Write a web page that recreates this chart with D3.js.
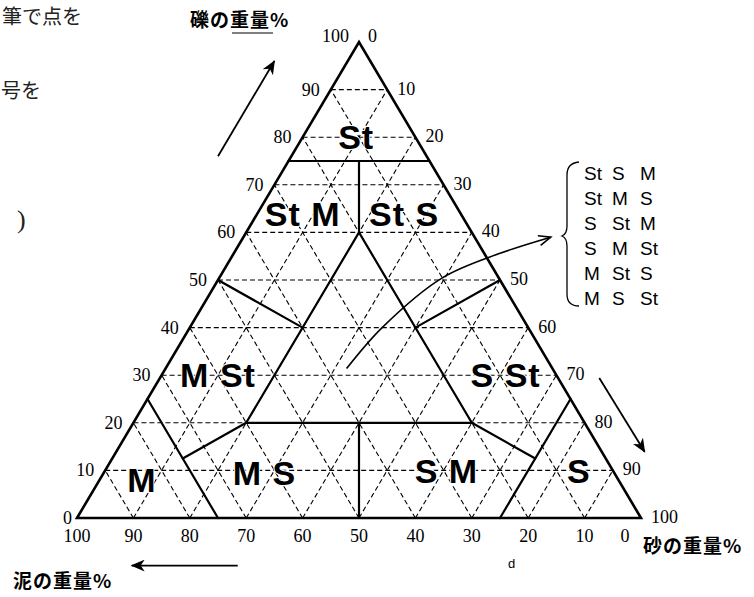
<!DOCTYPE html>
<html>
<head>
<meta charset="utf-8">
<script src="https://cdn.jsdelivr.net/npm/d3@7"></script>
<style>
  body { margin: 0; background: #fff; }
  svg { display: block; }
</style>
</head>
<body>
<svg id="chart" width="754" height="597"></svg>
<script>
// tick labels on each side of the triangle
var tickValues = [0, 10, 20, 30, 40, 50, 60, 70, 80, 90, 100];
var gridValues = [10, 20, 30, 40, 50, 60, 70, 80, 90];

// region names and where they sit (gravel %, sand %)
var regionNames  = ["St", "St M", "St S", "M St", "S St", "M", "M S", "S M", "S"];
var regionGravel = [80, 64, 64, 30, 30, 8, 9.5, 10, 10];
var regionSand   = [9.5, 8, 26, 10, 61, 7.5, 28.5, 60.5, 84];

// class boundaries, [gravel, sand] at each end
var boundaryFrom = [[75, 0], [75, 12.5], [60, 20], [60, 20], [20, 20], [20, 40], [50, 0], [50, 50], [20, 20], [25, 0], [20, 60], [25, 75]];
var boundaryTo   = [[75, 25], [60, 20], [20, 20], [20, 60], [20, 60], [0, 50], [40, 20], [40, 40], [12.5, 12.5], [0, 25], [12.5, 75], [0, 75]];

// the six orders for the centre field
var orderRows = [
  ["St", "S", "M"],
  ["St", "M", "S"],
  ["S", "St", "M"],
  ["S", "M", "St"],
  ["M", "St", "S"],
  ["M", "S", "St"]
];

// curved pointer from the centre field (gravel, sand)
var pointerPath = [[31.4, 32.1], [40, 34.1], [50.4, 39.5], [55.5, 47], [59, 54.5]];

var titleGravel = "礫の重量%",
    titleSand = "砂の重量%",
    titleMud = "泥の重量%";


var svg = d3.select("#chart");

var x = d3.scaleLinear().domain([0, 100]).range([77, 641]);
var y = d3.scaleLinear().domain([0, 100]).range([518, 42]);

// gravel g, sand s -> pixel
function pt(g, s) {
  return [x(s + g / 2), y(g)];
}

var numFont = "Liberation Serif, Times New Roman, DejaVu Serif, serif",
    jpFont = "Noto Sans CJK JP, sans-serif",
    latFont = "Liberation Sans, Arial, sans-serif";

// markers
var defs = svg.append("defs");
defs.append("marker")
    .attr("id", "barb")
    .attr("markerUnits", "userSpaceOnUse")
    .attr("markerWidth", 16).attr("markerHeight", 12)
    .attr("refX", 13).attr("refY", 6)
    .attr("orient", "auto")
  .append("path")
    .attr("d", "M0,0 L14,6 L0,12 L4,6 Z")
    .style("fill", "#000");
defs.append("marker")
    .attr("id", "open")
    .attr("markerUnits", "userSpaceOnUse")
    .attr("markerWidth", 16).attr("markerHeight", 12)
    .attr("refX", 13).attr("refY", 6)
    .attr("orient", "auto")
  .append("path")
    .attr("d", "M1,1 L13,6 L1,11")
    .style("fill", "none")
    .style("stroke", "#000")
    .style("stroke-width", 1.6);


// dashed grid
var grid = svg.append("g")
    .style("stroke", "#000")
    .style("stroke-width", 1.1)
    .style("stroke-dasharray", "5,3")
    .style("fill", "none");

gridValues.forEach(function(k) {
  // constant gravel
  var a = pt(k, 0), b = pt(k, 100 - k);
  grid.append("line").attr("x1", a[0]).attr("y1", a[1]).attr("x2", b[0]).attr("y2", b[1]);
  // constant sand
  a = pt(0, k); b = pt(100 - k, k);
  grid.append("line").attr("x1", a[0]).attr("y1", a[1]).attr("x2", b[0]).attr("y2", b[1]);
  // constant mud
  a = pt(0, 100 - k); b = pt(100 - k, 0);
  grid.append("line").attr("x1", a[0]).attr("y1", a[1]).attr("x2", b[0]).attr("y2", b[1]);
});


// class boundaries
var bounds = svg.append("g")
    .style("stroke", "#000")
    .style("stroke-width", 2.2)
    .style("stroke-linecap", "round");

boundaryFrom.forEach(function(f, i) {
  var a = pt(f[0], f[1]), b = pt(boundaryTo[i][0], boundaryTo[i][1]);
  bounds.append("line").attr("x1", a[0]).attr("y1", a[1]).attr("x2", b[0]).attr("y2", b[1]);
});


// outline
svg.append("path")
    .attr("d", d3.line()([pt(0, 0), pt(100, 0), pt(0, 100)]) + "Z")
    .style("fill", "none")
    .style("stroke", "#000")
    .style("stroke-width", 2.6)
    .style("stroke-linejoin", "miter");


// tick labels
var ticks = svg.append("g")
    .attr("font-family", numFont)
    .attr("font-size", 18)
    .style("fill", "#000");

tickValues.forEach(function(t) {
  // gravel, left edge
  var p = pt(t, 0);
  ticks.append("text")
      .attr("x", p[0] + (t === 100 ? -10 : t === 0 ? -5 : -11))
      .attr("y", p[1] + (t === 100 ? -6 : 0))
      .attr("dy", "0.33em")
      .attr("text-anchor", "end")
      .text(t);
  // sand, right edge
  p = pt(100 - t, t);
  ticks.append("text")
      .attr("x", p[0] + (t === 0 ? 9 : 10))
      .attr("y", p[1] + (t === 0 ? -6 : -1))
      .attr("dy", "0.33em")
      .attr("text-anchor", "start")
      .text(t);
  // mud, bottom edge
  p = pt(0, 100 - t);
  ticks.append("text")
      .attr("x", p[0] + (t === 0 ? -16 : 0))
      .attr("y", p[1] + 18)
      .attr("dy", "0.33em")
      .attr("text-anchor", "middle")
      .text(t);
});


// region names
svg.append("g").selectAll("text")
    .data(regionNames)
  .enter().append("text")
    .attr("x", function(d, i) { return pt(regionGravel[i], regionSand[i])[0]; })
    .attr("y", function(d, i) { return pt(regionGravel[i], regionSand[i])[1]; })
    .attr("dy", "0.36em")
    .attr("text-anchor", "middle")
    .attr("font-family", latFont)
    .attr("font-weight", "bold")
    .attr("font-size", 34)
    .style("letter-spacing", "1px")
    .style("fill", "#000")
    .style("stroke", "#fff")
    .style("stroke-width", 2)
    .style("paint-order", "stroke")
    .text(function(d) { return d; });


// straight arrows along each side (drawn in triangle coordinates)
function arrow(from, to) {
  var a = pt(from[0], from[1]), b = pt(to[0], to[1]);
  svg.append("line")
      .attr("x1", a[0]).attr("y1", a[1]).attr("x2", b[0]).attr("y2", b[1])
      .style("stroke", "#000")
      .style("stroke-width", 1.8)
      .attr("marker-end", "url(#barb)");
}
arrow([76, -13], [96, -13]);                  // gravel up
arrow([29.4, 77.9], [13.9, 93.7]);            // sand down
arrow([-10, 33.5], [-10, 14.7]);              // mud left

// curved pointer to the list
svg.append("path")
    .attr("d", d3.line().curve(d3.curveCatmullRom)(pointerPath.map(function(d) { return pt(d[0], d[1]); })))
    .style("fill", "none")
    .style("stroke", "#000")
    .style("stroke-width", 1.6)
    .attr("marker-end", "url(#open)");


// brace + list of orders
var listX = 584, listY = 173, rowGap = 25, colGap = [0, 28, 56];

svg.append("path")
    .attr("d", "M579,162 Q567,163 567,175 L567,226 Q567,234 562,236 Q567,238 567,246 L567,294 Q567,306 579,306")
    .style("fill", "none")
    .style("stroke", "#000")
    .style("stroke-width", 1.3);

var list = svg.append("g")
    .attr("font-family", latFont)
    .attr("font-size", 19)
    .style("fill", "#000");

orderRows.forEach(function(row, r) {
  row.forEach(function(c, j) {
    list.append("text")
        .attr("x", listX + colGap[j])
        .attr("y", listY + r * rowGap)
        .attr("dy", "0.36em")
        .text(c);
  });
});


// axis titles
function title(txt, tx, ty) {
  svg.append("text")
      .attr("x", tx).attr("y", ty)
      .attr("font-family", jpFont)
      .attr("font-weight", "bold")
      .attr("font-size", 19)
      .style("letter-spacing", "1px")
      .text(txt);
}
title(titleGravel, 190, 27);
title(titleSand, 643, 553);
title(titleMud, 13, 588);

svg.append("line")
    .attr("x1", 232).attr("x2", 273)
    .attr("y1", 33).attr("y2", 33)
    .style("stroke", "#000").style("stroke-width", 1.2);


// stray page text around the figure
var page = svg.append("g")
    .attr("font-family", jpFont)
    .attr("font-size", 20)
    .style("fill", "#222");
page.append("text").attr("x", 2).attr("y", 24).text("筆で点を");
page.append("text").attr("x", 1).attr("y", 98).text("号を");
page.append("text").attr("x", 17).attr("y", 228).attr("font-family", numFont).attr("font-size", 26).text(")");

svg.append("text")
    .attr("x", 508).attr("y", 568)
    .attr("font-family", latFont)
    .attr("font-size", 13)
    .text("d");
</script>
</body>
</html>
